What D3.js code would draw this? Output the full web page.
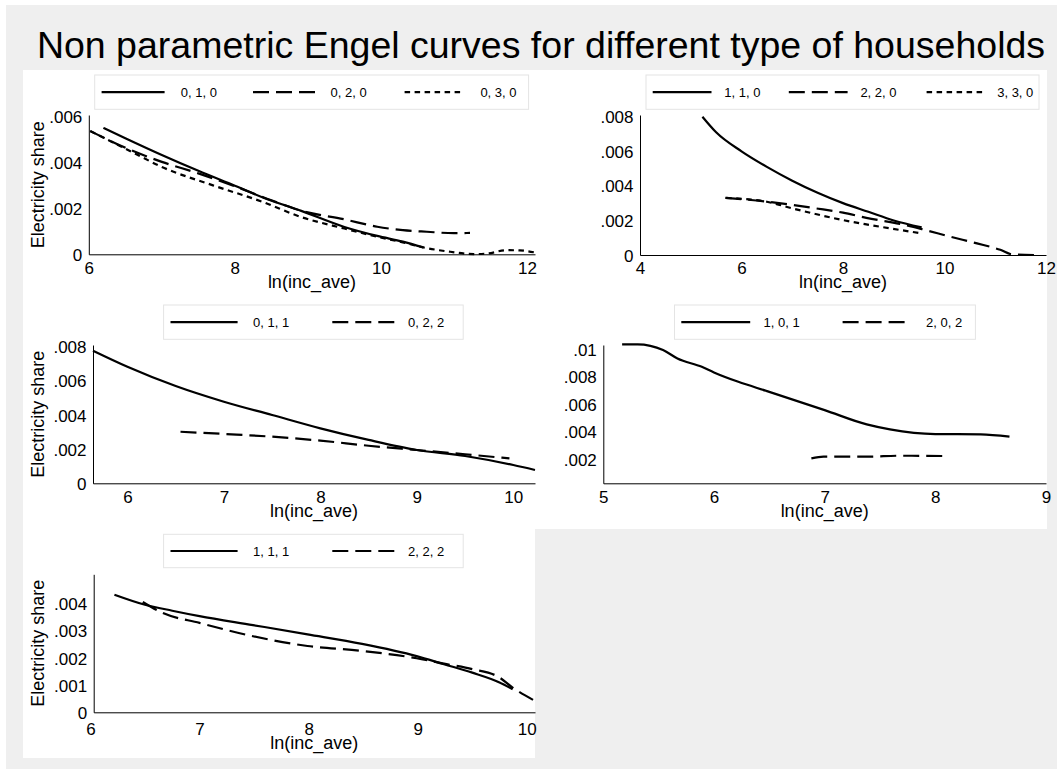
<!DOCTYPE html>
<html><head><meta charset="utf-8">
<script src="https://cdn.jsdelivr.net/npm/d3@7"></script>
<style>
body{margin:0;background:#fff}
svg{display:block;font-family:"Liberation Sans",Arial,Helvetica,sans-serif}
</style>
</head><body>
<svg id="chart" width="1057" height="769"></svg>
<script>
// ---------------- DATA ----------------
const titleText = "Non parametric Engel curves for different type of households";
const xAxisTitle = "ln(inc_ave)";
const yAxisTitle = "Electricity share";

// Panel 1
const p1Labels = ["0, 1, 0", "0, 2, 0", "0, 3, 0"];
const p1_010_x = [6.2, 6.5, 7.0, 7.5, 8.0, 8.4, 8.9, 9.5, 9.95, 10.3, 10.58];
const p1_010_y = [.0055, .00505, .00432, .00363, .00298, .00245, .0019, .00119, .0008, .00055, .0003];
const p1_020_x = [6.02, 6.55, 7.0, 7.5, 8.0, 8.5, 8.9, 9.5, 9.95, 10.3, 10.63, 11.0, 11.22];
const p1_020_y = [.00536, .00457, .00402, .00352, .00296, .00235, .0019, .00152, .0012, .00105, .00098, .00092, .00093];
const p1_030_x = [6.02, 6.55, 7.0, 7.7, 8.38, 8.9, 9.5, 9.94, 10.3, 10.58, 10.95, 11.27, 11.45, 11.72, 11.9, 12.11];
const p1_030_y = [.00536, .00452, .0038, .003, .00228, .00163, .00112, .00077, .00052, .0003, .00011, .00001, .00003, .00018, .00017, .00008];
const p1XTicks = [6, 8, 10, 12];
const p1YTicks = [0, .002, .004, .006];

// Panel 2
const p2Labels = ["1, 1, 0", "2, 2, 0", "3, 3, 0"];
const p2_110_x = [5.23, 5.5, 6.0, 6.5, 7.0, 7.5, 8.0, 8.5, 9.0, 9.55];
const p2_110_y = [.008, .0071, .006, .0051, .0043, .0036, .003, .0025, .002, .0016];
const p2_220_x = [5.68, 6.47, 7.0, 7.46, 8.0, 8.46, 9.12, 9.55, 10.11, 10.64, 11.1, 11.34, 11.8];
const p2_220_y = [.0033, .0031, .0029, .0027, .00245, .00215, .0018, .0015, .00106, .00067, .0003, .00003, 0];
const p2_330_x = [5.7, 6.5, 6.75, 7.0, 7.46, 8.0, 8.46, 9.12, 9.55];
const p2_330_y = [.0033, .00308, .0029, .0027, .00237, .00202, .00177, .00145, .00125];
const p2XTicks = [4, 6, 8, 10, 12];
const p2YTicks = [0, .002, .004, .006, .008];

// Panel 3
const p3Labels = ["0, 1, 1", "0, 2, 2"];
const p3_011_x = [5.643, 6.0, 6.5, 7.0, 7.5, 8.0, 8.5, 9.0, 9.5, 10.0, 10.225];
const p3_011_y = [.00777, .00683, .0057, .00478, .004, .00322, .00254, .00195, .0016, .00107, .00078];
const p3_022_x = [6.55, 7.0, 7.5, 8.0, 8.5, 9.0, 9.5, 9.96];
const p3_022_y = [.00302, .00289, .00273, .0025, .0022, .00195, .0017, .00146];
const p3XTicks = [6, 7, 8, 9, 10];
const p3YTicks = [0, .002, .004, .006, .008];

// Panel 4
const p4Labels = ["1, 0, 1", "2, 0, 2"];
const p4_101_x = [5.17, 5.31, 5.54, 5.67, 5.89, 6.0, 6.22, 6.47, 7.0, 7.38, 7.59, 8.0, 8.41, 8.67];
const p4_101_y = [.01034, .01034, .00993, .00932, .00872, .00831, .00763, .00698, .00558, .00454, .00418, .00384, .00382, .00365];
const p4_202_x = [6.88, 6.99, 7.38, 7.68, 8.08];
const p4_202_y = [.00208, .0022, .0022, .00227, .00225];
const p4XTicks = [5, 6, 7, 8, 9];
const p4YTicks = [.002, .004, .006, .008, .01];

// Panel 5
const p5Labels = ["1, 1, 1", "2, 2, 2"];
const p5_111_x = [6.22, 6.5, 6.75, 7.0, 7.49, 7.99, 8.49, 8.99, 9.24, 9.5, 9.75, 9.87];
const p5_111_y = [.00433, .00396, .00374, .00354, .00321, .00287, .00252, .00207, .00177, .00146, .0011, .00085];
const p5_222_x = [6.48, 6.66, 7.0, 7.49, 7.99, 8.49, 8.99, 9.24, 9.5, 9.75, 9.87, 10.07];
const p5_222_y = [.00406, .00366, .00329, .0028, .00244, .00226, .00199, .00179, .00159, .00128, .00091, .00043];
const p5XTicks = [6, 7, 8, 9, 10];
const p5YTicks = [0, .001, .002, .003, .004];

// ---------------- STYLES ----------------
const dashStyles = {solid: null, dash: "16,7", short: "5.5,4.5"};
const font = {title: 37.5, tick: 17, axisTitle: 18, legend: 13};

// ---------------- PANEL CONFIG (built from the arrays above) ----------------
const panels = [
  {
    series: [
      {x: p1_010_x, y: p1_010_y, label: p1Labels[0], style: "solid"},
      {x: p1_020_x, y: p1_020_y, label: p1Labels[1], style: "dash"},
      {x: p1_030_x, y: p1_030_y, label: p1Labels[2], style: "short"}
    ],
    xTicks: p1XTicks, yTicks: p1YTicks,
    xDomain: [6, 12.11], yDomain: [0, .00606],
    plot: {l: 88.8, r: 535, t: 115, b: 254.3},
    tickOff: 19.5, titleOff: 33.5, showYTitle: true,
    legend: {x0: 94.7, x1: 528.6, y0: 75, y1: 109.3,
      items: [[101.6, 164.6, 180.8], [253, 315, 330.6], [404.6, 463.2, 480.4]]}
  },
  {
    series: [
      {x: p2_110_x, y: p2_110_y, label: p2Labels[0], style: "solid"},
      {x: p2_220_x, y: p2_220_y, label: p2Labels[1], style: "dash"},
      {x: p2_330_x, y: p2_330_y, label: p2Labels[2], style: "short"}
    ],
    xTicks: p2XTicks, yTicks: p2YTicks,
    xDomain: [4, 12], yDomain: [0, .0081],
    plot: {l: 640, r: 1046, t: 115, b: 255},
    tickOff: 19, titleOff: 33, showYTitle: false,
    legend: {x0: 646, x1: 1039, y0: 75, y1: 109.3,
      items: [[652.7, 711.5, 724.3], [788.8, 847.6, 860.4], [926.6, 983.8, 997.2]]}
  },
  {
    series: [
      {x: p3_011_x, y: p3_011_y, label: p3Labels[0], style: "solid"},
      {x: p3_022_x, y: p3_022_y, label: p3Labels[1], style: "dash"}
    ],
    xTicks: p3XTicks, yTicks: p3YTicks,
    xDomain: [5.643, 10.225], yDomain: [0, .0081],
    plot: {l: 93, r: 535, t: 345, b: 483.3},
    tickOff: 20, titleOff: 34, showYTitle: true,
    legend: {x0: 163.6, x1: 463.2, y0: 305, y1: 339.3,
      items: [[170.5, 237.6, 253], [332.3, 394.3, 408]]}
  },
  {
    series: [
      {x: p4_101_x, y: p4_101_y, label: p4Labels[0], style: "solid"},
      {x: p4_202_x, y: p4_202_y, label: p4Labels[1], style: "dash"}
    ],
    xTicks: p4XTicks, yTicks: p4YTicks,
    xDomain: [5, 9], yDomain: [.00027, .0103],
    plot: {l: 603.3, r: 1046, t: 345, b: 483.3},
    tickOff: 20, titleOff: 34, showYTitle: false,
    legend: {x0: 674.5, x1: 975.4, y0: 305, y1: 339.3,
      items: [[681.3, 750.2, 763.6], [842.6, 904.8, 926]]}
  },
  {
    series: [
      {x: p5_111_x, y: p5_111_y, label: p5Labels[0], style: "solid"},
      {x: p5_222_x, y: p5_222_y, label: p5Labels[1], style: "dash"}
    ],
    xTicks: p5XTicks, yTicks: p5YTicks,
    xDomain: [6.03, 10.075], yDomain: [0, .00508],
    plot: {l: 93.7, r: 535, t: 574.3, b: 712.3},
    tickOff: 22.5, titleOff: 36.5, showYTitle: true,
    legend: {x0: 163.6, x1: 463.2, y0: 534.3, y1: 567.7,
      items: [[170.5, 237.6, 253], [332.3, 394.3, 408]]}
  }
];

// white panel backgrounds (x0, y0, x1, y1)
const panelBoxes = [[23, 70, 535, 299], [535, 70, 1047, 299], [23, 299, 535, 529], [535, 299, 1047, 529], [23, 529, 535, 758]];

// ---------------- DRAW ----------------
const svg = d3.select("#chart");
svg.append("rect").attr("x", 0).attr("y", 0).attr("width", 1057).attr("height", 769).attr("fill", "#ffffff");
svg.append("rect").attr("x", 6).attr("y", 5).attr("width", 1051).attr("height", 764).attr("fill", "#efefef");

svg.selectAll("rect.pbox").data(panelBoxes).join("rect")
  .attr("class", "pbox")
  .attr("x", d => d[0]).attr("y", d => d[1])
  .attr("width", d => d[2] - d[0]).attr("height", d => d[3] - d[1])
  .attr("fill", "#ffffff");

svg.append("text")
  .attr("x", 541).attr("y", 58)
  .attr("text-anchor", "middle")
  .attr("font-size", font.title)
  .attr("fill", "#000")
  .text(titleText);

const fmt = v => v === 0 ? "0" : String(+v.toFixed(4)).replace(/^0\./, ".");

panels.forEach(p => {
  const g = svg.append("g");
  const x = d3.scaleLinear().domain(p.xDomain).range([p.plot.l, p.plot.r]);
  const y = d3.scaleLinear().domain(p.yDomain).range([p.plot.b, p.plot.t]);

  // curves
  const line = d3.line().x(d => x(d[0])).y(d => y(d[1])).curve(d3.curveMonotoneX);
  p.series.forEach(s => {
    const pts = s.x.map((xv, i) => [xv, s.y[i]]);
    g.append("path")
      .attr("d", line(pts))
      .attr("fill", "none")
      .attr("stroke", "#000")
      .attr("stroke-width", 2.2)
      .attr("stroke-dasharray", dashStyles[s.style]);
  });

  // x axis
  const xa = g.append("g").attr("transform", `translate(0,${p.plot.b})`)
    .call(d3.axisBottom(x).tickValues(p.xTicks).tickSize(0).tickSizeOuter(0).tickFormat(fmt));
  xa.select(".domain").attr("stroke", "#000").attr("stroke-width", 1);
  xa.selectAll(".tick text")
    .attr("y", p.tickOff).attr("dy", null)
    .attr("font-size", font.tick).attr("fill", "#000")
    .attr("font-family", '"Liberation Sans",Arial,sans-serif');

  // y axis
  const ya = g.append("g").attr("transform", `translate(${p.plot.l},0)`)
    .call(d3.axisLeft(y).tickValues(p.yTicks).tickSize(0).tickSizeOuter(0).tickPadding(6.5).tickFormat(fmt));
  ya.select(".domain").attr("stroke", "#000").attr("stroke-width", 1);
  ya.selectAll(".tick text")
    .attr("dy", "0.36em")
    .attr("font-size", font.tick).attr("fill", "#000")
    .attr("font-family", '"Liberation Sans",Arial,sans-serif');

  // axis titles
  g.append("text")
    .attr("x", (p.plot.l + p.plot.r) / 2)
    .attr("y", p.plot.b + p.titleOff)
    .attr("text-anchor", "middle")
    .attr("font-size", font.axisTitle).attr("fill", "#000")
    .text(xAxisTitle);
  if (p.showYTitle) {
    const cy = (p.plot.t + p.plot.b) / 2;
    g.append("text")
      .attr("transform", `translate(44,${cy}) rotate(-90)`)
      .attr("text-anchor", "middle")
      .attr("font-size", font.axisTitle).attr("fill", "#000")
      .text(yAxisTitle);
  }

  // legend
  const L = p.legend;
  g.append("rect")
    .attr("x", L.x0).attr("y", L.y0)
    .attr("width", L.x1 - L.x0).attr("height", L.y1 - L.y0)
    .attr("fill", "#fff").attr("stroke", "#e4e4e4").attr("stroke-width", 1);
  const cy = (L.y0 + L.y1) / 2;
  p.series.forEach((s, i) => {
    const it = L.items[i];
    g.append("line")
      .attr("x1", it[0]).attr("x2", it[1]).attr("y1", cy).attr("y2", cy)
      .attr("stroke", "#000").attr("stroke-width", 2.2)
      .attr("stroke-dasharray", dashStyles[s.style]);
    g.append("text")
      .attr("x", it[2]).attr("y", cy + 4.7)
      .attr("font-size", font.legend).attr("fill", "#000")
      .text(s.label);
  });
});
</script>
</body></html>
